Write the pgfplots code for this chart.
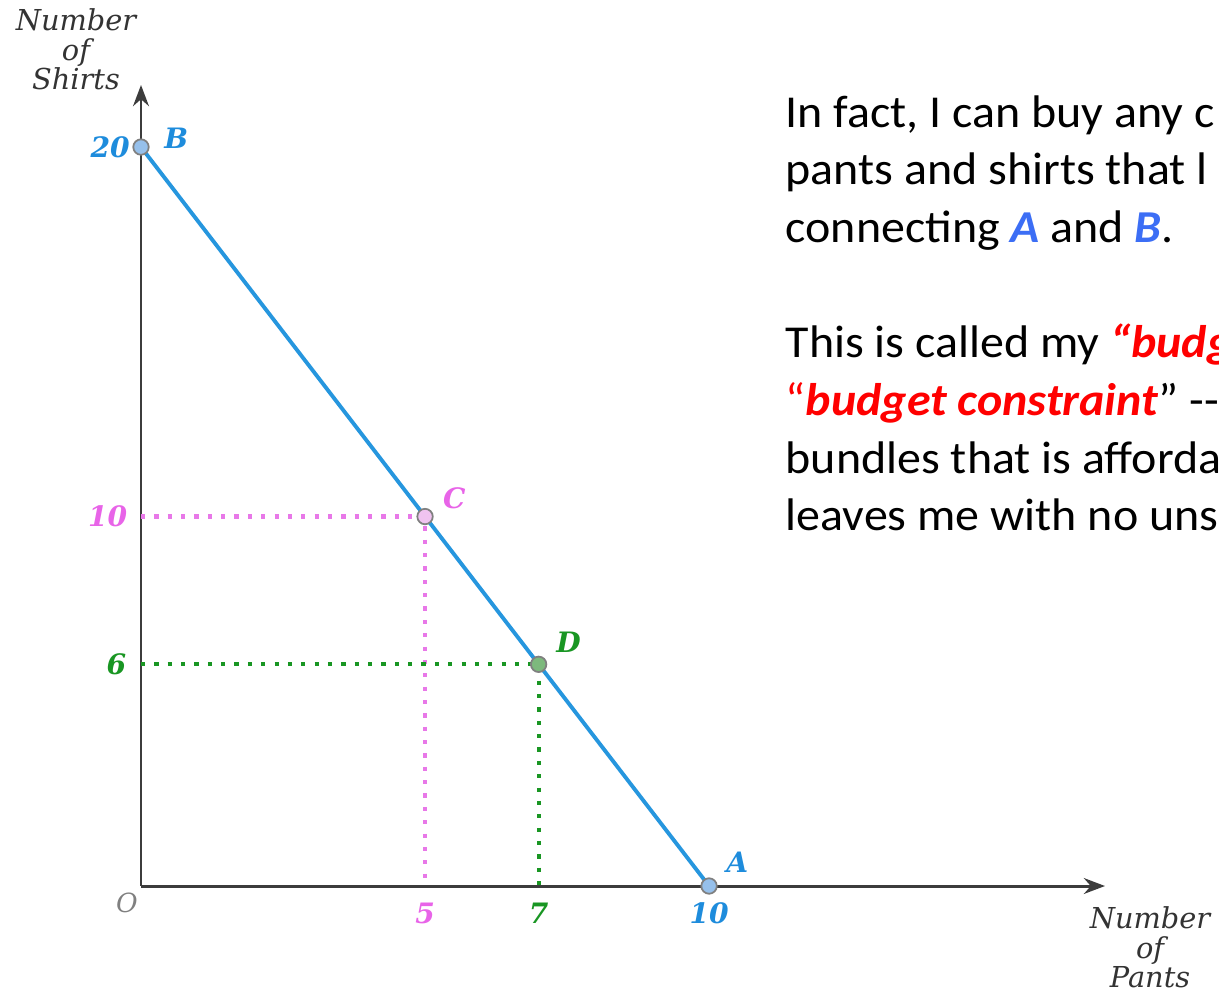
\documentclass[border=0pt]{standalone}
\usepackage{pgfplots}
\pgfplotsset{compat=1.18}
\usepackage{fontspec}
\setmainfont{Carlito}[FakeStretch=1.05]
\newfontfamily\labelfont{DejaVu Serif}
\usetikzlibrary{arrows.meta}

\definecolor{lineblue}{RGB}{38,150,222}
\definecolor{tickblue}{RGB}{30,140,220}
\definecolor{ptblue}{RGB}{150,192,235}
\definecolor{pinkc}{RGB}{232,100,232}
\definecolor{pinkdot}{RGB}{232,120,232}
\definecolor{ptpink}{RGB}{240,195,240}
\definecolor{greenc}{RGB}{25,150,35}
\definecolor{ptgreen}{RGB}{125,185,125}
\definecolor{axisgray}{RGB}{60,60,60}
\definecolor{textblue}{RGB}{60,110,245}
\definecolor{textred}{RGB}{255,0,0}

\newcommand{\numfont}{\labelfont\bfseries\itshape\fontsize{8}{9}\selectfont}
\newcommand{\titfont}{\labelfont\itshape\fontsize{8.2}{8.4}\selectfont}

\begin{document}
\begin{tikzpicture}
\useasboundingbox (-1.41,-1.07) rectangle (10.78,8.86);
\clip (-1.41,-1.07) rectangle (10.78,8.86);
\begin{axis}[
  scale only axis,
  width=9.64cm, height=8.01cm,
  xmin=0, xmax=16.97, ymin=0, ymax=21.68,
  axis lines=left,
  axis line style={draw=axisgray, line width=0.85pt,
    -{Stealth[length=6pt,width=4.5pt]}},
  xtick=\empty, ytick=\empty,
  clip=false,
]
% guide lines to the axes
\addplot[pinkdot, line width=1.2pt, dash pattern=on 1.2pt off 2.6pt]
  coordinates {(0,10) (5,10) (5,0)};
\addplot[greenc, line width=1.2pt, dash pattern=on 1.2pt off 2.6pt]
  coordinates {(0,6) (7,6) (7,0)};
% budget line
\addplot[lineblue, line width=1.1pt] coordinates {(0,20) (10,0)};
% bundles
\addplot[only marks, mark=*, mark size=2.2pt,
  mark options={fill=ptblue, draw=gray, line width=0.5pt}]
  coordinates {(0,20) (10,0)};
\addplot[only marks, mark=*, mark size=2.2pt,
  mark options={fill=ptpink, draw=gray, line width=0.5pt}]
  coordinates {(5,10)};
\addplot[only marks, mark=*, mark size=2.2pt,
  mark options={fill=ptgreen, draw=gray, line width=0.5pt}]
  coordinates {(7,6)};

% bundle names
\node[font=\numfont, text=tickblue, xshift=10pt, yshift=2.6pt] at (axis cs:0,20) {B};
\node[font=\numfont, text=pinkc, xshift=8.3pt, yshift=5.1pt] at (axis cs:5,10) {C};
\node[font=\numfont, text=greenc, xshift=8.5pt, yshift=6.3pt] at (axis cs:7,6) {D};
\node[font=\numfont, text=tickblue, xshift=8pt, yshift=6.8pt] at (axis cs:10,0) {A};

% axis values
\node[font=\numfont, text=tickblue, anchor=east, inner sep=0pt, xshift=-3pt] at (axis cs:0,20) {20};
\node[font=\numfont, text=pinkc, anchor=east, inner sep=0pt, xshift=-3.7pt] at (axis cs:0,10) {10};
\node[font=\numfont, text=greenc, anchor=east, inner sep=0pt, xshift=-4pt] at (axis cs:0,6) {6};
\node[font=\numfont, text=pinkc, yshift=-7.7pt] at (axis cs:5,0) {5};
\node[font=\numfont, text=greenc, yshift=-7.7pt] at (axis cs:7,0) {7};
\node[font=\numfont, text=tickblue, yshift=-7.7pt] at (axis cs:10,0) {10};
\node[font=\labelfont\itshape\fontsize{7.5}{8}\selectfont, text=gray, xshift=-4pt, yshift=-4.8pt] at (axis cs:0,0) {O};
\end{axis}

% axis titles
\node[font=\titfont, text=black!80, align=center, anchor=north, inner sep=0pt]
  at (-0.65,8.78) {Number\\of\\Shirts};
\node[font=\titfont, text=black!80, align=center, anchor=north, inner sep=0pt]
  at (10.09,-0.2) {Number\\of\\Pants};

% explanation (runs past the right edge)
\begin{scope}[every node/.style={anchor=base west, inner sep=0pt,
    font=\fontsize{13}{15}\selectfont}]
\node at (6.44,7.58) {In fact, I can buy any c};
\node at (6.44,7.01) {pants and shirts that l};
\node at (6.44,6.43) {connecting \textcolor{textblue}{\textbf{\textit{A}}} and \textcolor{textblue}{\textbf{\textit{B}}}.};
\node at (6.44,5.28) {This is called my \textcolor{textred}{\textbf{\textit{``budg}}}};
\node at (6.44,4.70) {\textcolor{textred}{``\textbf{\textit{budget constraint}}}'' -{}-};
\node at (6.44,4.13) {bundles that is afforda};
\node at (6.44,3.56) {leaves me with no uns};
\end{scope}
\end{tikzpicture}
\end{document}
